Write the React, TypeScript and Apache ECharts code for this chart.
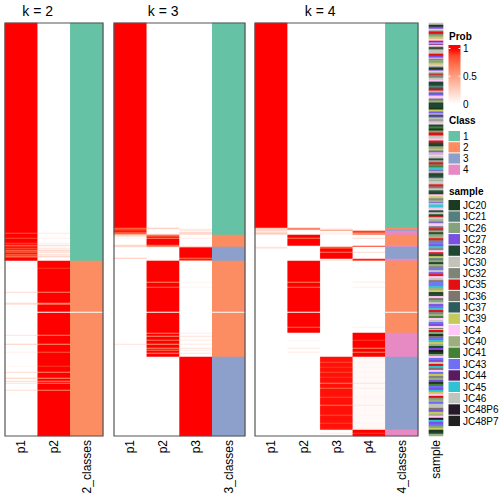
import React, { useEffect, useRef } from "react";
import * as echarts from "echarts";

// ---------- data ----------
const sampleNames = ["JC20","JC21","JC26","JC27","JC28","JC30","JC32","JC35","JC36","JC37","JC39","JC4","JC40","JC41","JC43","JC44","JC45","JC46","JC48P6","JC48P7"];
const sampleColors = ["#1b3a1f","#557e7e","#84a27c","#7a50e0","#1e4834","#c3c3bb","#7c857a","#e21010","#7f746e","#2d5c5c","#c6c95c","#ffc7f5","#9caf7f","#428034","#6f6ff4","#581b5f","#30c1d3","#bec6bb","#25192a","#202020"];
const sampleCodes = "abcdefghijklmnopqrst";
const sampleOrder = [
  "ffaaddlfghhgcmkkllhd","lpllnagfrffhhddlbmcc","kklfgaadlfmhgggrrlle","eeebbjhhfmddolllbgmm","aeeeeaakkdoljjdffgfr",
  "lleennaacchhhfrrllhh","eeaafgkkbdlmllrreefg","hhgnnqqcdlgaaeebffcl","rrhhiiffeeaallkkggmm","dlqqqflleeffaahrrmmg",
  "dlllbbhhgmaeccmmhhii","ooddqqggllhheekkbbcc","aammggoorrddhhllffii","ooooqqmmkkaaeelliicc","ffddooqqhhggmmnnllrr",
  "ooddllgfhhccaaiiooqq","kkmmeeddssaacclloodd","ffhhqqiillookkggmmdd","aannooddqqkkllhhccmm","ooffrriiddkkmmllssqq",
  "ddoocckkaaeemm",
].join("");

const classNames = ["1","2","3","4"];
const classColors = ["#66c2a5","#fc8d62","#8da0cb","#e78ac3"];

const probStops = ["#ffffff","#ffe7df","#ffcfbf","#ffb79f","#ff9e81","#ff8463","#ff6746","#ff4628","#ff0000"];
const probTicks = [1, 0.5, 0];

const k2Columns = ["p1","p2","2_classes"];
const k3Columns = ["p1","p2","p3","3_classes"];
const k4Columns = ["p1","p2","p3","p4","4_classes"];

// bands: [sample count, class (0 = none), p1, p2, ...]
const k2Bands = [[238,1,1,0],[51,2,0,1],[1,0,0,0],[123,2,0,1]];
const k3Bands = [[212,1,1,0,0],[12,2,0,1,0],[14,3,0,0,1],[51,2,0,1,0],[1,0,0,0,0],[44,2,0,1,0],[79,3,0,0,1]];
const k4Bands = [[205,1,1,0,0,0],[2,2,0,1,0,0],[1,3,0,0,1,0],[4,4,0,0,0,1],[11,2,0,1,0,0],[1,4,0,0,0,1],[12,3,0,0,1,0],[2,4,0,0,0,1],[51,2,0,1,0,0],[1,0,0,0,0,0],[20,2,0,1,0,0],[24,4,0,0,0,1],[73,3,0,0,0.97,0.03],[6,4,0,0,0,1]];

// mixed samples: [row, p1, p2, ...]
const k2Mixed = [
  [210,0.8,0.12],[215,0.85,0.08],[220,0.85,0.1],[222,0.75,0.2],[223,0.9,0.05],[225,0.8,0.15],[227,0.7,0.25],
  [228,0.9,0.08],[229,0.75,0.2],[231,0.8,0.15],[232,0.9,0.06],[233,0.7,0.25],[234,0.85,0.1],
  [245,0.04,0.9],[269,0.2,0.6],[280,0.2,0.6],[281,0.15,0.65],[312,0.15,0.6],[321,0.25,0.55],[329,0.08,0.8],
  [343,0.04,0.9],[349,0.2,0.6],[355,0.25,0.55],[358,0.2,0.6],[360,0.15,0.65],[367,0.18,0.6],
];
const k3Mixed = [
  [205,0.75,0.3,0],[206,0.85,0.05,0.1],[207,0.9,0,0.15],[209,0.8,0,0.2],[210,0.85,0,0.2],[211,0.5,0.2,0.2],
  [212,0.2,0.7,0],[213,0.15,0.8,0],[215,0.05,0.6,0.1],[222,0.2,0.75,0],[223,0.25,0.7,0],
  [224,0.05,0.1,0.75],[235,0.3,0,0.7],[237,0,0.1,0.8],
  [259,0,0.6,0.05],[264,0,0.75,0.05],
  [310,0,0.6,0.1],[313,0,0.55,0.15],[317,0,0.7,0.1],[321,0.15,0.55,0.1],[325,0,0.6,0.15],[327,0,0.7,0.1],[330,0,0.6,0.15],
];
const k4Mixed = [
  [205,0.3,0.6,0.05,0],[206,0.2,0.7,0.1,0],[207,0.25,0.05,0.55,0.1],[208,0.1,0,0,0.9],[209,0.15,0,0,0.85],
  [210,0.3,0,0.1,0.55],[211,0.2,0.05,0.05,0.7],[215,0,0.7,0,0.2],[223,0,0.05,0.05,0.9],[224,0.15,0,0.8,0],
  [225,0.12,0,0.85,0],[229,0,0,0.65,0.2],[236,0,0,0.05,0.95],[237,0,0,0.1,0.9],
  [259,0,0.65,0,0.1],[264,0,0.7,0,0.08],[304,0,0.75,0,0.08],
  [317,0,0.05,0,0.9],[325,0,0.12,0,0.6],[329,0,0.1,0,0.65],
  [339,0,0,0.85,0.05],[344,0,0,0.9,0.05],[349,0,0,0.85,0.06],[354,0,0,0.9,0.05],[360,0,0,0.65,0.15],
  [365,0,0,0.75,0.1],[374,0,0,0.85,0.05],[382,0,0,0.7,0.12],[392,0,0,0.85,0.05],[400,0,0,0.88,0.05],
  [405,0,0,0.95,0.08],[410,0,0,0.12,0.9],
];

// ---------- helpers ----------
function expand(bands: number[][], mixed: number[][]) {
  const probs: number[][] = [];
  const classes: number[] = [];
  bands.forEach((b) => {
    for (let i = 0; i < b[0]; i++) {
      probs.push(b.slice(2));
      classes.push(b[1]);
    }
  });
  mixed.forEach((m) => {
    probs[m[0]] = m.slice(1);
  });
  return { probs, classes };
}

const FONT = "'Liberation Sans', Arial, Helvetica, sans-serif";
const TOP = 23;
const HEIGHT = 413;

export default function App() {
  const ref = useRef<HTMLDivElement>(null);
  useEffect(() => {
    document.body.style.margin = "0";
    if (!ref.current) return;
    const chart = echarts.init(ref.current, null, { renderer: "svg" });

    const panels = [
      { title: "k = 2", cols: k2Columns, ...expand(k2Bands, k2Mixed), left: 5, width: 98 },
      { title: "k = 3", cols: k3Columns, ...expand(k3Bands, k3Mixed), left: 114, width: 131 },
      { title: "k = 4", cols: k4Columns, ...expand(k4Bands, k4Mixed), left: 255, width: 163 },
    ];

    const grids: any[] = [];
    const xAxes: any[] = [];
    const yAxes: any[] = [];
    const series: any[] = [];
    const probSeries: number[] = [];
    const classSeries: number[] = [];
    const graphics: any[] = [];

    const axisLabel = { rotate: 90, margin: 4, fontSize: 12, color: "#000", fontFamily: FONT, interval: 0 };

    panels.forEach((p, i) => {
      const n = p.classes.length;
      grids.push({ left: p.left, top: TOP, width: p.width, height: HEIGHT, containLabel: false });
      xAxes.push({ type: "category", gridIndex: i, data: p.cols, axisLine: { show: false }, axisTick: { show: false }, axisLabel, splitLine: { show: false } });
      yAxes.push({ type: "category", gridIndex: i, inverse: true, show: false, data: Array.from({ length: n }, (_, r) => String(r)) });
      const nProb = p.cols.length - 1;
      const pd: number[][] = [];
      p.probs.forEach((row, r) => {
        for (let j = 0; j < nProb; j++) pd.push([j, r, row[j] ?? 0]);
      });
      probSeries.push(series.length);
      series.push({ type: "heatmap", xAxisIndex: i, yAxisIndex: i, data: pd, progressive: 0, emphasis: { disabled: true } });
      classSeries.push(series.length);
      series.push({ type: "heatmap", xAxisIndex: i, yAxisIndex: i, data: p.classes.map((c, r) => [nProb, r, c]), progressive: 0, emphasis: { disabled: true } });
      const probW = (p.width * nProb) / p.cols.length;
      graphics.push({ type: "text", z: 100, style: { text: p.title, x: p.left + probW / 2, y: 11, textAlign: "center", textVerticalAlign: "middle", font: `14px ${FONT}`, fill: "#000" } });
      graphics.push({ type: "rect", z: 100, shape: { x: p.left, y: TOP, width: p.width, height: HEIGHT }, style: { fill: "none", stroke: "#555", lineWidth: 1.2 } });
    });

    // sample annotation column
    const sIdx = panels.length;
    const sampleRows = sampleOrder.split("").map((ch) => sampleCodes.indexOf(ch));
    grids.push({ left: 429, top: TOP, width: 14, height: HEIGHT });
    xAxes.push({ type: "category", gridIndex: sIdx, data: ["sample"], axisLine: { show: false }, axisTick: { show: false }, axisLabel, splitLine: { show: false } });
    yAxes.push({ type: "category", gridIndex: sIdx, inverse: true, show: false, data: sampleRows.map((_, r) => String(r)) });
    const sampleSeries = series.length;
    series.push({ type: "heatmap", xAxisIndex: sIdx, yAxisIndex: sIdx, data: sampleRows.map((s, r) => [0, r, s]), progressive: 0, emphasis: { disabled: true } });

    // legends
    const LX = 448.5;
    const TX = 463;
    graphics.push({ type: "text", style: { text: "Prob", x: LX + 0.5, y: 36.5, textVerticalAlign: "middle", font: `bold 10px ${FONT}`, fill: "#000" } });
    const barTop = 45, barH = 61, v1 = 48.5, v0 = 104;
    graphics.push({
      type: "rect", shape: { x: LX, y: barTop, width: 12, height: barH },
      style: { fill: { type: "linear", x: 0, y: 0, x2: 0, y2: 1, colorStops: [
        { offset: 0, color: probStops[probStops.length - 1] },
        ...probStops.slice().reverse().map((c, i) => ({ offset: (v1 - barTop + (i * (v0 - v1)) / (probStops.length - 1)) / barH, color: c })),
        { offset: 1, color: probStops[0] },
      ] } },
    });
    probTicks.forEach((t) => {
      const y = v0 - t * (v0 - v1);
      graphics.push({ type: "text", style: { text: String(t), x: TX, y, textVerticalAlign: "middle", font: `10px ${FONT}`, fill: "#000" } });
      if (t > 0) {
        graphics.push({ type: "line", shape: { x1: LX, y1: y, x2: LX + 2, y2: y }, style: { stroke: "#fff", lineWidth: 1 } });
        graphics.push({ type: "line", shape: { x1: LX + 10, y1: y, x2: LX + 12, y2: y }, style: { stroke: "#fff", lineWidth: 1 } });
      }
    });
    graphics.push({ type: "text", style: { text: "Class", x: LX + 0.5, y: 120.5, textVerticalAlign: "middle", font: `bold 10px ${FONT}`, fill: "#000" } });
    classNames.forEach((c, i) => {
      const y = 131 + i * 11.2;
      graphics.push({ type: "rect", shape: { x: LX, y, width: 11.5, height: 10.2 }, style: { fill: classColors[i] } });
      graphics.push({ type: "text", style: { text: c, x: TX, y: y + 5.3, textVerticalAlign: "middle", font: `10px ${FONT}`, fill: "#000" } });
    });
    graphics.push({ type: "text", style: { text: "sample", x: LX + 0.5, y: 191.5, textVerticalAlign: "middle", font: `bold 10px ${FONT}`, fill: "#000" } });
    sampleNames.forEach((s, i) => {
      const y = 200 + i * 11.35;
      graphics.push({ type: "rect", shape: { x: LX, y, width: 11.5, height: 10.4 }, style: { fill: sampleColors[i] } });
      graphics.push({ type: "text", style: { text: s, x: TX, y: y + 5.4, textVerticalAlign: "middle", font: `10px ${FONT}`, fill: "#000" } });
    });

    chart.setOption({
      animation: false,
      backgroundColor: "#ffffff",
      grid: grids,
      xAxis: xAxes,
      yAxis: yAxes,
      visualMap: [
        { type: "continuous", show: false, seriesIndex: probSeries, min: 0, max: 1, dimension: 2, inRange: { color: probStops } },
        { type: "piecewise", show: false, seriesIndex: classSeries, dimension: 2,
          pieces: [{ value: 0, color: "#ffffff" }, ...classColors.map((c, i) => ({ value: i + 1, color: c }))] },
        { type: "piecewise", show: false, seriesIndex: [sampleSeries], dimension: 2,
          pieces: sampleColors.map((c, i) => ({ value: i, color: c })) },
      ],
      series,
      graphic: { elements: graphics },
    });
    return () => chart.dispose();
  }, []);
  return <div ref={ref} style={{ width: 504, height: 504 }} />;
}
